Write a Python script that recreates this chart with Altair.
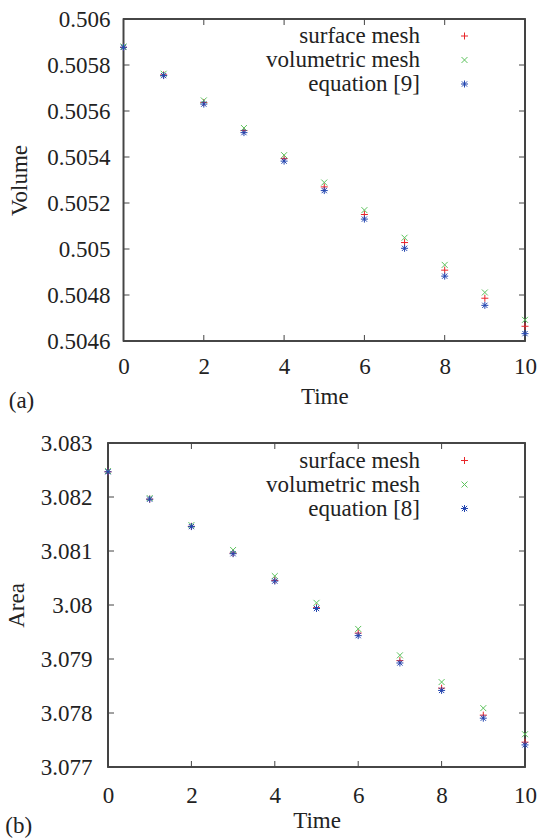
import altair as alt
import pandas as pd

# ---------------- data ----------------
time = [0, 1, 2, 3, 4, 5, 6, 7, 8, 9, 10]

vol_surface = [0.505877, 0.505757, 0.505637, 0.505515, 0.505393, 0.505270,
               0.505150, 0.505028, 0.504908, 0.504786, 0.504664]
vol_volumetric = [0.505880, 0.505762, 0.505646, 0.505526, 0.505408, 0.505289,
                  0.505169, 0.505049, 0.504931, 0.504811, 0.504692]
vol_equation = [0.505877, 0.505754, 0.505630, 0.505506, 0.505382, 0.505254,
                0.505130, 0.505003, 0.504882, 0.504755, 0.504632]

area_surface = [3.082467, 3.081960, 3.081457, 3.080960, 3.080455, 3.079950,
                3.079480, 3.078970, 3.078460, 3.077960, 3.077460]
area_volumetric = [3.082480, 3.081980, 3.081480, 3.081019, 3.080536, 3.080040,
                   3.079557, 3.079068, 3.078573, 3.078090, 3.077607]
area_equation = [3.082467, 3.081960, 3.081452, 3.080950, 3.080443, 3.079935,
                 3.079433, 3.078926, 3.078418, 3.077904, 3.077409]

series_a = ["surface mesh", "volumetric mesh", "equation [9]"]
series_b = ["surface mesh", "volumetric mesh", "equation [8]"]

time_ticks = [0, 2, 4, 6, 8, 10]
vol_ticks = [0.5046, 0.5048, 0.505, 0.5052, 0.5054, 0.5056, 0.5058, 0.506]
area_ticks = [3.077, 3.078, 3.079, 3.08, 3.081, 3.082, 3.083]

# ---------------- style ----------------
FONT = "Liberation Serif"
TEXT = "#222222"
FRAME = "#444444"
COLORS = ["#e8262a", "#5cc25c", "#2346b0"]
PLUS = "M-1,0L1,0M0,-1L0,1"
CROSS = "M-0.85,-0.85L0.85,0.85M-0.85,0.85L0.85,-0.85"
STAR = "M-1,0L1,0M0,-1L0,1M-0.75,-0.75L0.75,0.75M-0.75,0.75L0.75,-0.75"
FS = 23
TICK = 6
W = 417  # group width shared by both panels


def panel(values, names, yticks, ytitle, fmt, H, XL, lx, ly,
          ylabpad, ytitlepad, xlabpad, xtitlepad, tag, tagoffset):
    rows = []
    for name, vals in zip(names, values):
        for t, v in zip(time, vals):
            rows.append({"Time": t, "value": v, "series": name})
    df = pd.DataFrame(rows)

    xscale = alt.Scale(domain=[time[0], time[-1]], nice=False, zero=False,
                       range=[XL, W])
    yscale = alt.Scale(domain=[yticks[0], yticks[-1]], nice=False, zero=False)

    leg = alt.Legend(title=None, orient="none", legendX=lx, legendY=ly,
                     direction="vertical", labelAlign="right",
                     labelOffset={"expr": "-56"},
                     labelFont=FONT, labelFontSize=FS, labelColor=TEXT,
                     symbolSize=49, symbolStrokeWidth=1, rowPadding=0,
                     padding=0, labelLimit=400)

    points = alt.Chart(df).mark_point(filled=False, strokeWidth=1, size=49,
                                      opacity=1).encode(
        x=alt.X("Time:Q", scale=xscale,
                axis=alt.Axis(values=time_ticks, title="Time", format="d",
                              labelFont=FONT, labelFontSize=FS, labelColor=TEXT,
                              titleFont=FONT, titleFontSize=FS, titleColor=TEXT,
                              titleFontWeight="normal",
                              labelPadding=xlabpad, titlePadding=xtitlepad)),
        y=alt.Y("value:Q", scale=yscale,
                axis=alt.Axis(values=yticks, title=ytitle, format=fmt,
                              offset={"expr": str(-XL)},
                              labelFont=FONT, labelFontSize=FS, labelColor=TEXT,
                              titleFont=FONT, titleFontSize=FS, titleColor=TEXT,
                              titleFontWeight="normal",
                              labelPadding=ylabpad, titlePadding=ytitlepad)),
        color=alt.Color("series:N", scale=alt.Scale(domain=names, range=COLORS),
                        legend=leg),
        shape=alt.Shape("series:N",
                        scale=alt.Scale(domain=names, range=[PLUS, CROSS, STAR]),
                        legend=leg),
    )

    xt = pd.DataFrame({"Time": time_ticks})
    yt = pd.DataFrame({"value": yticks})
    rule = dict(color=FRAME, strokeWidth=1)
    xb = alt.Chart(xt).mark_rule(**rule).encode(
        x="Time:Q", y=alt.value(H), y2=alt.value(H - TICK))
    xtop = alt.Chart(xt).mark_rule(**rule).encode(
        x="Time:Q", y=alt.value(0), y2=alt.value(TICK))
    yl = alt.Chart(yt).mark_rule(**rule).encode(
        y="value:Q", x=alt.value(XL), x2=alt.value(XL + TICK))
    yr = alt.Chart(yt).mark_rule(**rule).encode(
        y="value:Q", x=alt.value(W - TICK), x2=alt.value(W))
    frame = alt.Chart(xt).mark_rect(filled=False, stroke=FRAME,
                                    strokeWidth=1.2).encode(
        x=alt.value(XL), x2=alt.value(W), y=alt.value(0), y2=alt.value(H))

    return alt.layer(frame, points, xb, xtop, yl, yr).properties(
        width=W, height=H,
        title=alt.TitleParams(tag, orient="bottom", anchor="start", frame="bounds",
                              offset=tagoffset, font=FONT, fontSize=FS,
                              fontWeight="normal", color=TEXT),
    )


pa = panel([vol_surface, vol_volumetric, vol_equation], series_a, vol_ticks,
           "Volume", ".4~f", 322, 15.5, 345, 5.5, 13.5, 15, 14, 7, "(a)", -18)
pb = panel([area_surface, area_volumetric, area_equation], series_b, area_ticks,
           "Area", ".3~f", 324, 0, 345, 6, 16, 12, 17, 2, "(b)", -17)

chart = alt.concat(pa, pb, columns=1, spacing=19).resolve_scale(
    color="independent", shape="independent", x="independent", y="independent"
).resolve_legend(color="independent", shape="independent").properties(
    padding={"left": 5, "top": 8, "right": 0, "bottom": 0},
    background="white",
).configure_view(stroke=None).configure_axis(
    domain=False, ticks=False, grid=False, labelFlush=False,
    labelFont=FONT, labelFontSize=FS, labelColor=TEXT,
    titleFont=FONT, titleFontSize=FS, titleFontWeight="normal", titleColor=TEXT,
)

chart.save("out.html", embed_options={"renderer": "svg", "actions": False})
